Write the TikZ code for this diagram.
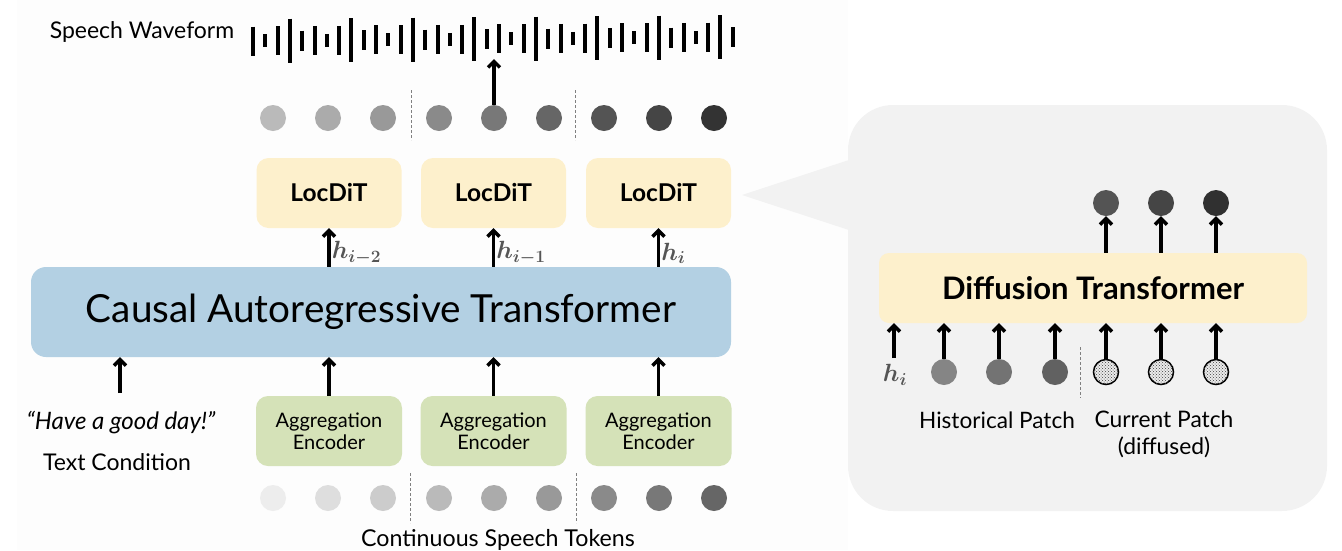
\documentclass[tikz,border=0pt]{standalone}
\usepackage{fontspec}
\setmainfont{Lato}
\usepackage{amsmath,bm}
\usetikzlibrary{arrows.meta,patterns,calc}
\definecolor{locyellow}{HTML}{FDF0CC}
\definecolor{encgreen}{HTML}{D5E2B8}
\definecolor{tblue}{HTML}{B3D0E3}
\definecolor{panelgray}{HTML}{F2F2F2}
\definecolor{bgfaint}{HTML}{FDFDFD}
\definecolor{hgray}{HTML}{555555}
\begin{document}
\begin{tikzpicture}[x=1pt,y=-1pt,
  locbox/.style={fill=locyellow, rounded corners=12pt, minimum width=145pt, minimum height=70pt, inner sep=0pt, font=\fontsize{24.5}{27}\selectfont\bfseries},
  encbox/.style={fill=encgreen, rounded corners=12pt, minimum width=146pt, minimum height=70pt, inner sep=0pt, align=center, font=\fontsize{20}{22}\selectfont},
  arr/.style={line width=3.6pt, -{Straight Barb[length=6pt,width=12pt,line width=3.4pt]}},
  tokdot/.style={circle, minimum size=26pt, inner sep=0pt},
  sepline/.style={gray, line width=0.9pt, dash pattern=on 3pt off 2pt},
  hlab/.style={text=hgray, font=\fontsize{24}{26}\selectfont, inner sep=1pt},
  lab/.style={font=\fontsize{22.6}{26}\selectfont, inner sep=0pt, align=center}]
\useasboundingbox (0,0) rectangle (1342,550);
\fill[bgfaint] (17,0) rectangle (848,550);

% right panel and callout
\fill[panelgray] (742,195) -- (849,160) -- (849,230) -- cycle;
\fill[panelgray, rounded corners=45pt] (848,105) rectangle (1327,511);

% speech waveform
\node[lab, font=\fontsize{23}{26}\selectfont] (swlabel) at (142,32) {Speech Waveform};
\foreach \i in {0,...,39}{
  \pgfmathsetmacro\hh{{29,13,29,44,20}[mod(\i,5)]}
  \pgfmathsetmacro\xx{253+\i*12.3}
  \pgfmathsetmacro\cy{41-4*\i/39}
  \draw[line width=4pt] (\xx,\cy-\hh/2) -- (\xx,\cy+\hh/2);
}
\coordinate (wave) at (494,59);

% top dots
\foreach \x/\c [count=\k] in {273/27,328/33,383/40,439/46,494/53,549/60,604/67,659/73,714/80}{
  \node[tokdot, fill=black!\c] (t\k) at (\x,118) {};
}
\draw[sepline] (411,90) -- (411,140);
\draw[sepline] (575,90) -- (575,140);
\draw[arr] (t5.north) -- (wave);

% LocDiT boxes
\node[locbox] (loc1) at (329,193) {LocDiT};
\node[locbox] (loc2) at (493.5,193) {LocDiT};
\node[locbox] (loc3) at (658.5,193) {LocDiT};

% transformer
\node[fill=tblue, rounded corners=15pt, minimum width=700pt, minimum height=90pt, inner sep=0pt,
  font=\fontsize{38.7}{42}\selectfont] (tf) at (381,312) {Causal Autoregressive Transformer};

\draw[arr] (loc1.south |- tf.north) -- (loc1.south) node[hlab, pos=0.35, right] {$\bm{h}_{\bm{i-2}}$};
\draw[arr] (loc2.south |- tf.north) -- (loc2.south) node[hlab, pos=0.35, right] {$\bm{h}_{\bm{i-1}}$};
\draw[arr] (loc3.south |- tf.north) -- (loc3.south) node[hlab, pos=0.35, right] {$\bm{h}_{\bm{i}}$};

% text condition
\node[lab, font=\fontsize{24}{27}\selectfont\itshape] (quote) at (121,423) {``Have a good day!''};
\node[lab, font=\fontsize{23}{26}\selectfont] (tcond) at (117,462) {Text Condition};
\coordinate (tcin) at (120,393);
\draw[arr] (tcin) -- (tcin |- tf.south);

% encoders
\node[encbox] (enc1) at (329,431) {Aggregation\\Encoder};
\node[encbox] (enc2) at (493.5,431) {Aggregation\\Encoder};
\node[encbox] (enc3) at (658.5,431) {Aggregation\\Encoder};
\foreach \k in {1,2,3}{
  \draw[arr] (enc\k.north) -- (enc\k.north |- tf.south);
}

% bottom dots
\foreach \x/\c [count=\k] in {273/7,328/13,383/20,439/27,494/33,549/40,604/46,659/53,714/60}{
  \node[tokdot, fill=black!\c] (b\k) at (\x,498) {};
}
\draw[sepline] (410,473) -- (410,523);
\draw[sepline] (576,473) -- (576,523);
\node[lab, font=\fontsize{23.2}{26}\selectfont] (cst) at (498,540) {Continuous Speech Tokens};

% diffusion transformer panel
\node[fill=locyellow, rounded corners=10pt, minimum width=428pt, minimum height=70pt, inner sep=0pt,
  font=\fontsize{31}{34}\selectfont\bfseries] (dit) at (1093,288) {Diffusion Transformer};

\foreach \x/\c [count=\k] in {1106/67,1161/73,1216/81}{
  \node[tokdot, fill=black!\c] (o\k) at (\x,203) {};
  \draw[arr] (o\k.south |- dit.north) -- (o\k.south);
}

\node[hlab] (hi) at (895,375) {$\bm{h}_{\bm{i}}$};
\coordinate (hin) at (894,358);
\draw[arr] (hin) -- (hin |- dit.south);

\foreach \x/\c [count=\k] in {944/48,999/55,1055/62}{
  \node[tokdot, fill=black!\c] (p\k) at (\x,372) {};
  \draw[arr] (p\k.north) -- (p\k.north |- dit.south);
}
\foreach \x [count=\k] in {1106,1161,1216}{
  \node[tokdot, fill=black!8, draw=black, line width=1.5pt, minimum size=25pt,
    postaction={pattern=crosshatch dots, pattern color=black!75}] (q\k) at (\x,372) {};
  \draw[arr] (q\k.north) -- (q\k.north |- dit.south);
}
\draw[sepline] (1080,347) -- (1080,398);

\node[lab] (hist) at (997,420) {Historical Patch};
\node[lab, font=\fontsize{22.8}{27}\selectfont] (curr) at (1164,434) {Current Patch\\(diffused)};
\end{tikzpicture}
\end{document}
